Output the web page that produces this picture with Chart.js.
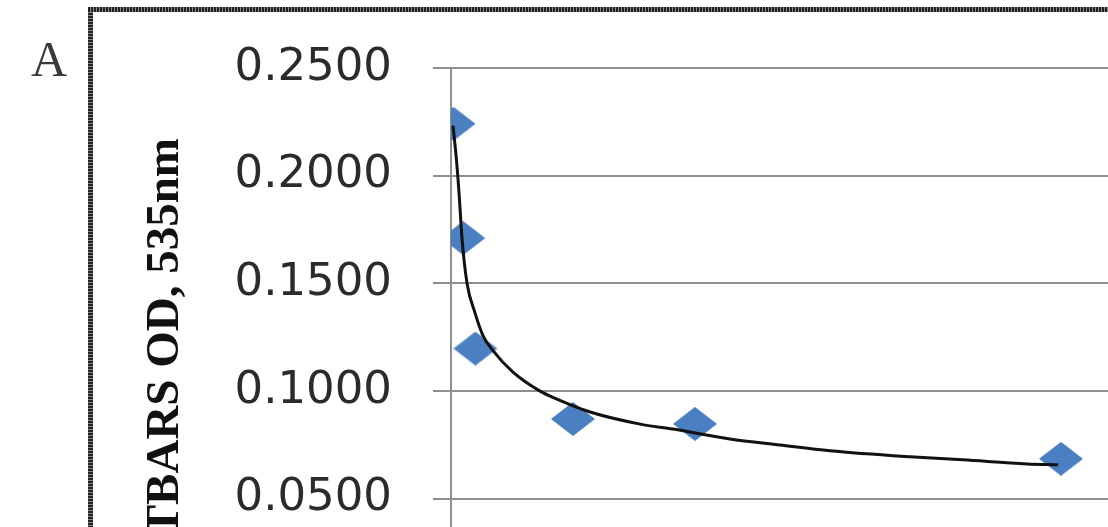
<!DOCTYPE html>
<html>
<head>
<meta charset="utf-8">
<script src="https://cdn.jsdelivr.net/npm/chart.js@4/dist/chart.umd.min.js"></script>
<style>
  html, body { margin: 0; padding: 0; background: #fff; overflow: hidden; width: 1108px; height: 527px; }
  #wrap { position: absolute; left: 0; top: 0; width: 1220px; height: 720px; }
  #frameLeft { position: absolute; left: 88px; top: 7px; width: 5px; height: 720px;
    background: repeating-linear-gradient(to bottom, #222 0 2px, #8a8a8a 2px 3px); }
  #frameTop { position: absolute; left: 88px; top: 7px; width: 1200px; height: 5px;
    background: repeating-linear-gradient(to right, #222 0 2px, #8a8a8a 2px 3px); }
  #panel { position: absolute; left: 31px; top: 34px; font-family: 'Liberation Serif', serif;
    font-size: 50px; color: #3a3a3a; line-height: 1; }
</style>
</head>
<body>
<div id="panel">A</div>
<div id="wrap"><canvas id="c" width="1220" height="720"></canvas></div>
<div id="frameLeft"></div>
<div id="frameTop"></div>
<script>
// Measured samples: concentration vs. absorbance
const concentration = [0.1, 0.5, 1, 5, 10, 25];
const tbarsOD = [0.2241, 0.1710, 0.1197, 0.0870, 0.0847, 0.0685];

// Trend curve, traced point by point
const trendX = [0.08, 0.2, 0.33, 0.45, 0.66, 0.98, 1.31, 1.68, 2.54, 3.65, 4.34, 5.7, 7.75, 9.1, 11.43, 13.48, 15.53, 18.81, 20.98, 23.61, 24.88];
const trendY = [0.2232, 0.2103, 0.1918, 0.1710, 0.1498, 0.1364, 0.1257, 0.1193, 0.1087, 0.0999, 0.0962, 0.0902, 0.0846, 0.0823, 0.0777, 0.0749, 0.0722, 0.0694, 0.0680, 0.0661, 0.0657];

// Y axis ticks
const yTicks = [0, 0.05, 0.10, 0.15, 0.20, 0.25];

// Wide diamond marker
function diamond(w, h, color) {
  const cv = document.createElement('canvas');
  cv.width = w; cv.height = h;
  const g = cv.getContext('2d');
  g.fillStyle = color;
  g.beginPath();
  g.moveTo(w / 2, 0);
  g.lineTo(w, h / 2);
  g.lineTo(w / 2, h);
  g.lineTo(0, h / 2);
  g.closePath();
  g.fill();
  return cv;
}
const marker = diamond(44, 34, '#4a7fc1');

const samplePoints = concentration.map((x, i) => ({ x, y: tbarsOD[i] }));
const trendPoints = trendX.map((x, i) => ({ x, y: trendY[i] }));

new Chart(document.getElementById('c'), {
  type: 'scatter',
  data: {
    datasets: [
      {
        type: 'line',
        data: trendPoints,
        borderColor: '#111',
        borderWidth: 3,
        pointRadius: 0,
        fill: false,
        cubicInterpolationMode: 'monotone',
        order: 0
      },
      {
        data: samplePoints,
        pointStyle: marker,
        pointRadius: 22,
        backgroundColor: '#4a7fc1',
        borderColor: '#4a7fc1',
        order: 1
      }
    ]
  },
  options: {
    responsive: false,
    animation: false,
    events: [],
    layout: { padding: { left: 0, top: 60, right: 37, bottom: 113.75 } },
    plugins: { legend: { display: false }, tooltip: { enabled: false } },
    scales: {
      x: { type: 'linear', min: 0, max: 30, display: false },
      y: {
        type: 'linear',
        min: 0,
        max: 0.25,
        afterBuildTicks: (scale) => { scale.ticks = yTicks.map(v => ({ value: v })); },
        afterFit: (scale) => { scale.width = 451; },
        ticks: {
          padding: 41,
          color: '#2b2b2b',
          font: { family: 'DejaVu Sans', size: 45 },
          callback: (v) => Number(v).toFixed(4)
        },
        grid: { color: '#8e8e8e', lineWidth: 2, tickLength: 18, drawTicks: true },
        border: { display: true, color: '#8e8e8e', width: 2 },
        title: {
          display: true,
          text: 'TBARS OD, 535nm',
          color: '#111',
          font: { family: 'Liberation Serif', weight: 'bold', size: 47 },
          padding: { top: 138, bottom: 0 }
        }
      }
    }
  }
});
</script>
</body>
</html>
